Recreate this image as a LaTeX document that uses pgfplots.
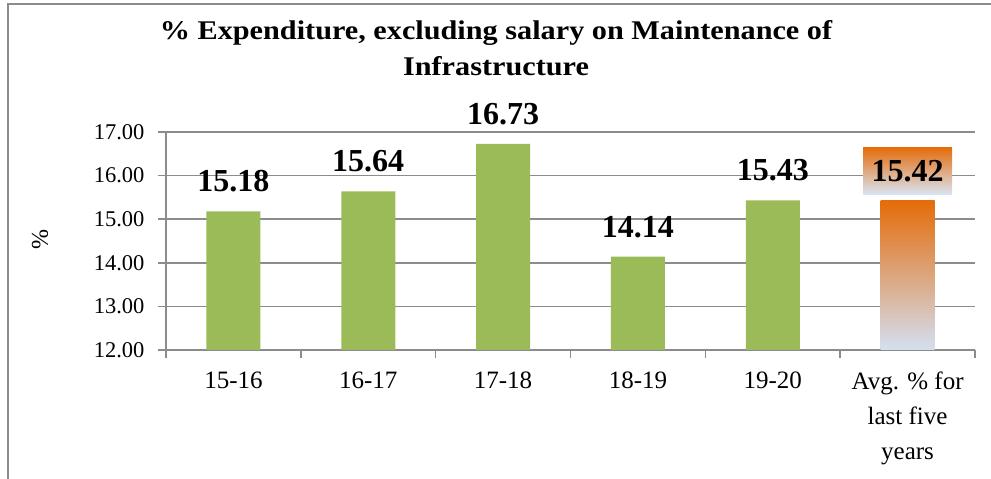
\documentclass[border=0pt]{standalone}
\usepackage{pgfplots}
\pgfplotsset{compat=1.18}
\usepackage{fontspec}
\setmainfont{Liberation Serif}
\newfontfamily\titlefont[FakeStretch=1.12]{Liberation Serif}
\definecolor{barg}{HTML}{9BBB59}
\definecolor{gridc}{HTML}{8C8C8C}
\definecolor{orng}{HTML}{E46C0A}
\definecolor{midc}{HTML}{D6A88E}
\definecolor{lblue}{HTML}{C9D8EE}
\begin{document}
\begin{tikzpicture}[x=1bp,y=1bp]
\path[use as bounding box] (-166,-129) rectangle (825,350);
\draw[gridc, line width=1.5bp] (-158,-129) -- (-158,346) -- (830,346);
\begin{axis}[
  at={(0,0)}, anchor=south west,
  scale only axis, width=809bp, height=218bp,
  xmin=-0.5, xmax=5.5, ymin=12, ymax=17,
  ytick={12,13,14,15,16,17},
  yticklabel style={xshift=-10bp, font=\fontsize{22.5bp}{26bp}\selectfont, /pgf/number format/fixed, /pgf/number format/fixed zerofill, /pgf/number format/precision=2, /pgf/number format/assume math mode=true},
  yticklabel={\pgfmathprintnumber{\tick}},
  ticklabel style={text=black},
  xtick={0,1,2,3,4,5},
  xticklabels={15-16,16-17,17-18,18-19,19-20,{Avg. \% for\\last five\\years}},
  xticklabel style={align=center, yshift=-10bp, font=\fontsize{25bp}{35bp}\selectfont},
  major x tick style={draw=none},
  minor xtick={-0.5,0.5,1.5,2.5,3.5,4.5,5.5},
  minor tick length=8bp,
  major tick length=8bp,
  tick align=outside,
  axis x line*=bottom, axis y line*=left,
  axis line style={gridc, line width=1.5bp},
  every tick/.style={gridc, line width=1.5bp},
  ymajorgrids, major grid style={gridc, line width=1.5bp},
  ylabel={\%}, ylabel style={font=\fontsize{24bp}{26bp}\selectfont, at={(-126bp,110bp)}, anchor=center},
  ybar, bar width=54bp, bar shift=0pt,
  nodes near coords,
  nodes near coords style={font=\bfseries\fontsize{32bp}{36bp}\selectfont, anchor=center, yshift=30bp, text=black,
     /pgf/number format/fixed, /pgf/number format/fixed zerofill, /pgf/number format/precision=2, /pgf/number format/assume math mode=true},
  clip=false,
]
\addplot[fill=barg, draw=none] coordinates {(0,15.18) (1,15.64) (2,16.73) (3,14.14) (4,15.43)};
\addplot[draw=none, top color=orng, middle color=midc, bottom color=lblue!80!white,
  nodes near coords style={top color=orng, middle color=midc!90!lblue, bottom color=lblue!70!white, inner xsep=8.5bp, inner ysep=12.5bp}]
  coordinates {(5,15.42)};
\end{axis}
\node[font=\titlefont\bfseries\fontsize{27bp}{36bp}\selectfont, align=center, anchor=north] at (330,333) {\% Expenditure, excluding salary on Maintenance of\\Infrastructure};
\end{tikzpicture}
\end{document}
